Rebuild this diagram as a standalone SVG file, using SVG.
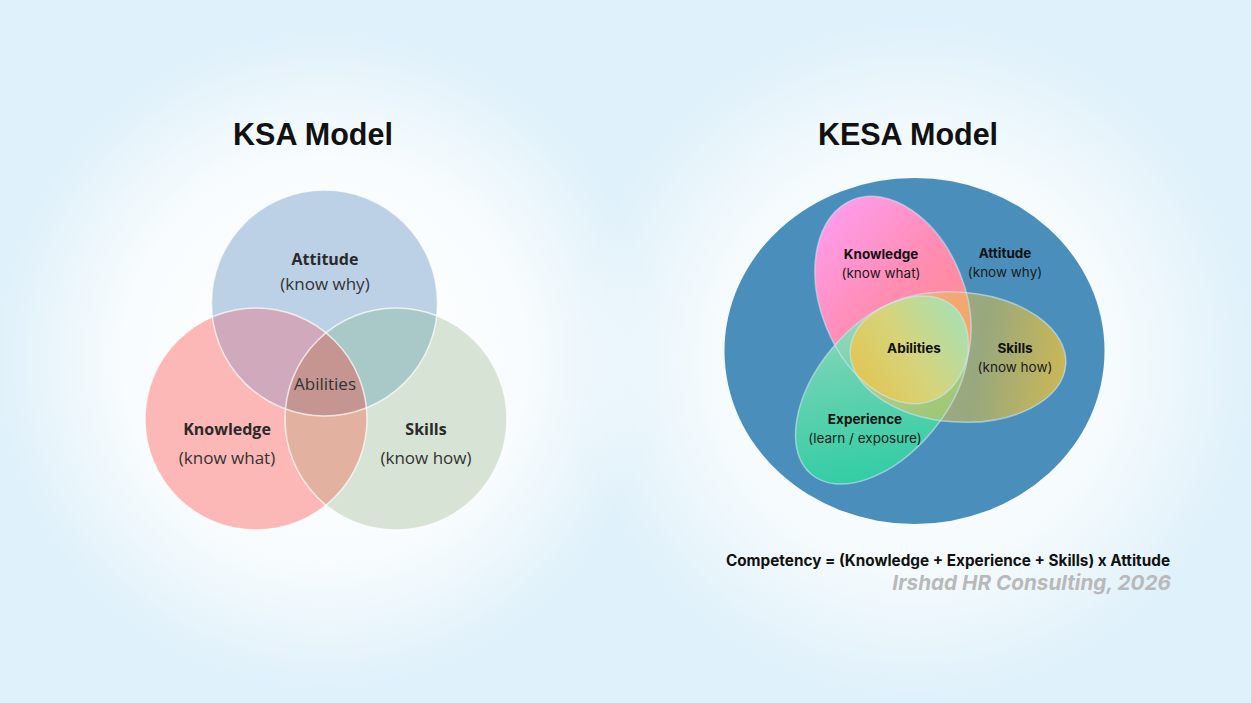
<svg xmlns="http://www.w3.org/2000/svg" width="1251" height="703" viewBox="0 0 1251 703">
<defs>
<style>
.title{font-family:"Liberation Sans",Arial,sans-serif;font-weight:bold;font-size:30.5px;fill:#111;text-anchor:middle}
.ksab{font-family:"Open Sans","Noto Sans",sans-serif;font-weight:bold;font-size:16px;fill:#2a2a2a;text-anchor:middle}
.ksar{font-family:"Open Sans","Noto Sans",sans-serif;font-size:17px;fill:#333;text-anchor:middle}
.kb{font-family:Inter,"Liberation Sans",sans-serif;font-weight:bold;font-size:13.5px;fill:#111;text-anchor:middle}
.kr{font-family:Inter,"Liberation Sans",sans-serif;font-size:13.5px;fill:#1a1a1a;text-anchor:middle}
.edge{fill:none;stroke:#ffffff;stroke-opacity:0.7;stroke-width:1.5}
.eedge{fill:none;stroke:#cfe6f5;stroke-opacity:0.6;stroke-width:1.5}
</style>
<radialGradient id="bgGlowL" cx="325" cy="360" r="330" gradientUnits="userSpaceOnUse">
<stop offset="0" stop-color="#ffffff"/><stop offset="0.6" stop-color="#ffffff" stop-opacity="0.8"/><stop offset="1" stop-color="#ffffff" stop-opacity="0"/>
</radialGradient>
<radialGradient id="bgGlowR" cx="915" cy="360" r="340" gradientUnits="userSpaceOnUse">
<stop offset="0" stop-color="#ffffff"/><stop offset="0.6" stop-color="#ffffff" stop-opacity="0.7"/><stop offset="1" stop-color="#ffffff" stop-opacity="0"/>
</radialGradient>
<clipPath id="cA"><circle cx="324.5" cy="303" r="113"/></clipPath>
<clipPath id="cK"><circle cx="256" cy="419" r="111"/></clipPath>
<linearGradient id="gK" gradientUnits="userSpaceOnUse" x1="850" y1="200" x2="930" y2="380">
<stop offset="0" stop-color="#ff9cec"/><stop offset="0.5" stop-color="#ff8db4"/><stop offset="1" stop-color="#ff8a8a"/>
</linearGradient>
<linearGradient id="gE" gradientUnits="userSpaceOnUse" x1="820" y1="480" x2="960" y2="310">
<stop offset="0" stop-color="#24d1a0"/><stop offset="0.6" stop-color="#6cd8b0"/><stop offset="1" stop-color="#a8e2c0"/>
</linearGradient>
<linearGradient id="gS" gradientUnits="userSpaceOnUse" x1="850" y1="350" x2="1065" y2="370">
<stop offset="0" stop-color="#ecc870" stop-opacity="0.6"/><stop offset="0.6" stop-color="#e6c040" stop-opacity="0.5"/><stop offset="1" stop-color="#e6c040" stop-opacity="0.82"/>
</linearGradient>
<linearGradient id="gC" gradientUnits="userSpaceOnUse" x1="860" y1="400" x2="968" y2="320">
<stop offset="0" stop-color="#e2c450"/><stop offset="0.5" stop-color="#d6d47c"/><stop offset="1" stop-color="#a6e0b4"/>
</linearGradient>
<clipPath id="ccK"><ellipse cx="893" cy="300" rx="72" ry="108" transform="rotate(-22 893 300)"/></clipPath>
<clipPath id="ccE"><ellipse cx="882" cy="390" rx="110" ry="65" transform="rotate(-50 882 390)"/></clipPath>
</defs>

<rect width="1251" height="703" fill="#dff1fa"/>
<rect width="1251" height="703" fill="url(#bgGlowL)"/>
<rect width="1251" height="703" fill="url(#bgGlowR)"/>

<text class="title" x="313" y="145">KSA Model</text>
<text class="title" x="908" y="145">KESA Model</text>

<g id="ksa-venn">
<circle cx="324.5" cy="303" r="113" fill="#bdd1e6"/>
<circle cx="256" cy="419" r="111" fill="#fcb8b6"/>
<circle cx="396" cy="419" r="111" fill="#d7e3d5"/>
<circle cx="256" cy="419" r="111" fill="#d1a9bc" clip-path="url(#cA)"/>
<circle cx="396" cy="419" r="111" fill="#a9c8c8" clip-path="url(#cA)"/>
<circle cx="396" cy="419" r="111" fill="#e3b19f" clip-path="url(#cK)"/>
<g clip-path="url(#cA)"><circle cx="396" cy="419" r="111" fill="#c59591" clip-path="url(#cK)"/></g>
<circle class="edge" cx="324.5" cy="303" r="113"/>
<circle class="edge" cx="256" cy="419" r="111"/>
<circle class="edge" cx="396" cy="419" r="111"/>
</g>
<g id="ksa-attitude">
<text class="ksab" x="325" y="265">Attitude</text>
<text class="ksar" x="325" y="290">(know why)</text>
</g>
<g id="ksa-knowledge">
<text class="ksab" x="227" y="435">Knowledge</text>
<text class="ksar" x="227" y="464">(know what)</text>
</g>
<g id="ksa-skills">
<text class="ksab" x="426" y="435">Skills</text>
<text class="ksar" x="426" y="464">(know how)</text>
</g>
<g id="ksa-abilities">
<text class="ksar" x="325" y="390" font-size="16">Abilities</text>
</g>

<g id="kesa-attitude">
<ellipse cx="914.5" cy="351" rx="190" ry="173" fill="#4a8fbb"/>
<text class="kb" x="1005" y="258">Attitude</text>
<text class="kr" x="1005" y="277">(know why)</text>
</g>
<g id="kesa-knowledge">
<ellipse cx="893" cy="300" rx="72" ry="108" transform="rotate(-22 893 300)" fill="url(#gK)"/>
</g>
<g id="kesa-experience">
<ellipse cx="882" cy="390" rx="110" ry="65" transform="rotate(-50 882 390)" fill="url(#gE)" fill-opacity="0.92"/>
</g>
<g id="kesa-skills">
<ellipse cx="958" cy="357" rx="108" ry="65" transform="rotate(4 958 357)" fill="url(#gS)"/>
</g>
<g id="kesa-abilities">
<g clip-path="url(#ccK)"><g clip-path="url(#ccE)"><ellipse cx="958" cy="357" rx="108" ry="65" transform="rotate(4 958 357)" fill="url(#gC)"/></g></g>
</g>
<g id="kesa-edges">
<ellipse class="eedge" cx="893" cy="300" rx="72" ry="108" transform="rotate(-22 893 300)"/>
<ellipse class="eedge" cx="882" cy="390" rx="110" ry="65" transform="rotate(-50 882 390)"/>
<ellipse class="eedge" cx="958" cy="357" rx="108" ry="65" transform="rotate(4 958 357)"/>
</g>
<g id="kesa-labels">
<text class="kb" x="881" y="259">Knowledge</text>
<text class="kr" x="881" y="278">(know what)</text>
<text class="kb" x="914" y="353">Abilities</text>
<text class="kb" x="1015" y="353">Skills</text>
<text class="kr" x="1015" y="372">(know how)</text>
<text class="kb" x="865" y="424">Experience</text>
<text class="kr" x="865" y="443">(learn / exposure)</text>
</g>

<g id="formula">
<text x="1170" y="566" font-family="Inter,'Liberation Sans',sans-serif" font-weight="bold" font-size="15.3" fill="#111" text-anchor="end">Competency = (Knowledge + Experience + Skills) x Attitude</text>
<text x="1171" y="590" font-family="Inter,'Liberation Sans',sans-serif" font-weight="bold" font-style="italic" font-size="20.7" fill="#b9b9b9" text-anchor="end">Irshad HR Consulting, 2026</text>
</g>
</svg>
